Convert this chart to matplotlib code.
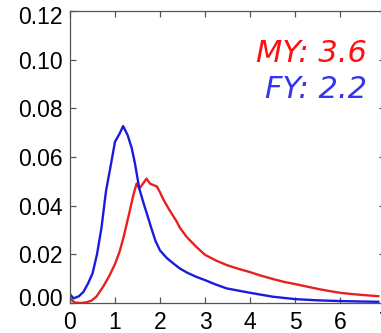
import matplotlib
matplotlib.use('Agg')
import matplotlib.pyplot as plt
import matplotlib.transforms as mtransforms

# first-year ice (blue)
fy_x = [0, 0.08, 0.2, 0.3, 0.4, 0.5, 0.6, 0.7, 0.8, 0.9, 1.0, 1.1, 1.18, 1.28,
        1.37, 1.44, 1.54, 1.63, 1.72, 1.81, 1.9, 2.0, 2.15, 2.3, 2.44, 2.6,
        2.8, 3.0, 3.24, 3.48, 4.0, 4.5, 5.0, 5.5, 6.0, 6.5, 6.85]
fy_y = [0.0036, 0.0019, 0.0028, 0.0046, 0.008, 0.0121, 0.02, 0.031, 0.046,
        0.056, 0.0663, 0.0695, 0.0727, 0.069, 0.0638, 0.0577, 0.047, 0.0413,
        0.036, 0.0306, 0.0255, 0.0216, 0.0185, 0.0162, 0.0142, 0.0125,
        0.0108, 0.0094, 0.0076, 0.006, 0.0042, 0.0026, 0.0016, 0.0011,
        0.0008, 0.0006, 0.0005]

# multi-year ice (red)
my_x = [0, 0.1, 0.25, 0.37, 0.48, 0.59, 0.74, 0.87, 1.0, 1.1, 1.19, 1.26, 1.33,
        1.41, 1.48, 1.54, 1.62, 1.70, 1.78, 1.85, 1.93, 2.0, 2.07, 2.2, 2.37,
        2.44, 2.59, 2.8, 3.0, 3.24, 3.48, 3.75, 4.0, 4.25, 4.52, 4.75, 5.0,
        5.3, 5.56, 5.8, 6.0, 6.25, 6.5, 6.85]
my_y = [0.002, 0.0002, 0.0, 0.0003, 0.001, 0.0027, 0.0068, 0.011, 0.016, 0.021,
        0.027, 0.0325, 0.038, 0.0445, 0.0491, 0.047, 0.049, 0.0511, 0.049,
        0.0485, 0.0479, 0.0455, 0.0427, 0.0385, 0.0335, 0.031, 0.0272, 0.0232,
        0.0198, 0.0175, 0.0156, 0.014, 0.0127, 0.0112, 0.0098, 0.0087, 0.0078,
        0.0066, 0.0056, 0.0048, 0.0042, 0.0037, 0.0033, 0.0028]

xticks = [0, 1, 2, 3, 4, 5, 6, 7]
yticks = [0.00, 0.02, 0.04, 0.06, 0.08, 0.10, 0.12]
ytick_labels = ['0.00', '0.02', '0.04', '0.06', '0.08', '0.10', '0.12']

W, H = 381, 333
fig = plt.figure(figsize=(W / 100, H / 100), dpi=100)
# axes runs a little past the right edge of the figure (cropped original)
ax = fig.add_axes([70 / W, 30 / H, 315 / W, 292 / H])

ax.plot(my_x, my_y, color='#e82020', lw=1.7)
ax.plot(fy_x, fy_y, color='#1a1ae0', lw=1.7)

ax.set_xlim(0, 7)
ax.set_ylim(0, 0.12)
ax.set_xticks(xticks)
ax.set_yticks(yticks)
ax.set_yticklabels(ytick_labels)

for s in ax.spines.values():
    s.set_color('#555555')
    s.set_linewidth(0.9)
ax.tick_params(direction='in', top=True, right=True, length=4.5, width=0.9,
               color='#555555', labelsize=16.5, labelcolor='black')
ax.tick_params(axis='y', pad=5)
ax.tick_params(axis='x', pad=6)
for lab in ax.get_xticklabels() + ax.get_yticklabels():
    lab.set_family('Liberation Sans')

# end labels pulled inside like the original
yl = ax.get_yticklabels()
yl[0].set_transform(yl[0].get_transform() +
                    mtransforms.ScaledTranslation(0, 0.06, fig.dpi_scale_trans))
yl[-1].set_transform(yl[-1].get_transform() +
                     mtransforms.ScaledTranslation(0, -0.04, fig.dpi_scale_trans))

ax.text(0.943, 0.826, 'MY: 3.6', transform=ax.transAxes, ha='right',
        va='baseline', color='#ff1010', fontsize=22, style='italic')
ax.text(0.943, 0.701, 'FY: 2.2', transform=ax.transAxes, ha='right',
        va='baseline', color='#3535f0', fontsize=22, style='italic')

fig.savefig('out.png', dpi=100)
